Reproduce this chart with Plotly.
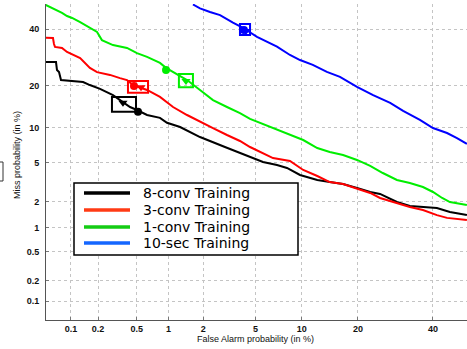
from statistics import NormalDist
import plotly.graph_objects as go

# DET curves: false alarm % (x) vs miss % (y) per training condition
names = ["8-conv Training", "3-conv Training", "1-conv Training", "10-sec Training"]

black_x = [0.0504, 0.0616, 0.0669, 0.0687, 0.0726, 0.0766, 0.105, 0.137, 0.163, 0.21, 0.288, 0.365, 0.43, 0.504, 0.631, 0.836, 0.97, 1.27, 1.88, 2.98, 4.58, 5.64, 7.0, 8.11, 9.76, 12.3, 14.4, 16.9, 19.8, 22.8, 25.2, 29.6, 33.2, 37.0, 41.2, 45.2, 50.5]
black_y = [27.5, 27.5, 27.5, 24.8, 24.1, 21.6, 21.3, 21.0, 20.1, 19.0, 17.3, 15.5, 14.3, 13.6, 12.5, 11.9, 10.9, 10.1, 8.38, 6.89, 5.61, 5.05, 4.73, 4.43, 3.79, 3.38, 3.22, 3.07, 2.8, 2.54, 2.42, 1.98, 1.79, 1.74, 1.7, 1.53, 1.41]

red_x = [0.0504, 0.0616, 0.0633, 0.0651, 0.0787, 0.09, 0.127, 0.163, 0.195, 0.268, 0.34, 0.401, 0.46, 0.631, 0.836, 1.1, 1.46, 1.88, 2.4, 3.09, 3.87, 4.58, 5.64, 6.59, 8.47, 10.2, 12.3, 14.4, 16.9, 19.8, 22.8, 25.2, 29.6, 33.2, 37.0, 41.2, 44.3, 50.5]
red_y = [36.5, 36.4, 34.1, 33.0, 32.6, 31.1, 28.9, 25.5, 24.1, 23.2, 22.2, 21.6, 20.1, 18.7, 16.8, 14.3, 12.5, 11.1, 9.92, 8.71, 7.76, 6.89, 6.1, 5.49, 5.15, 4.24, 3.7, 3.22, 3.07, 2.73, 2.48, 2.19, 1.93, 1.74, 1.61, 1.41, 1.31, 1.24]

green_x = [0.0504, 0.0616, 0.0787, 0.09, 0.103, 0.127, 0.163, 0.195, 0.22, 0.288, 0.401, 0.504, 0.631, 0.836, 0.95, 1.19, 1.46, 1.88, 2.4, 3.09, 3.87, 4.58, 5.64, 7.0, 8.47, 10.2, 12.3, 14.4, 16.9, 19.8, 22.8, 25.9, 29.6, 33.2, 37.0, 40.0, 42.8, 45.2, 50.5]
green_y = [49.9, 48.5, 46.6, 45.3, 44.5, 42.8, 40.4, 38.8, 35.6, 33.7, 32.6, 30.7, 29.3, 27.2, 25.5, 23.5, 21.6, 18.7, 16.0, 14.3, 12.9, 11.7, 10.7, 9.57, 8.71, 7.91, 6.75, 6.23, 5.85, 5.27, 4.63, 3.96, 3.38, 3.15, 2.86, 2.54, 2.19, 1.98, 1.84]

blue_x = [1.64, 1.88, 2.27, 2.73, 3.43, 4.01, 5.13, 7.0, 8.47, 9.76, 11.6, 13.9, 16.3, 19.8, 23.5, 27.8, 31.3, 36.1, 40.0, 44.3, 47.4, 50.5]
blue_y = [50.1, 48.5, 47.0, 45.7, 42.6, 40.7, 36.9, 33.1, 30.0, 28.2, 26.5, 24.2, 22.6, 19.6, 17.3, 15.3, 13.4, 11.5, 9.92, 9.04, 8.22, 7.32]

# operating points per system (same order as names)
mindcf_x = [0.516, 0.471, 0.95, 4.14]
mindcf_y = [13.2, 19.8, 24.8, 39.6]
actdcf_x = [0.365, 0.552, 1.43, 4.28]
actdcf_y = [15.3, 19.5, 21.3, 39.2]
# confidence boxes around the decision points: (fa_lo, fa_hi), (miss_lo, miss_hi)
box_fa = [(0.281, 0.493), (0.41, 0.645), (1.24, 1.64), (3.87, 4.58)]
box_miss = [(13.2, 16.8), (17.9, 21.3), (19.5, 23.5), (37.6, 42.0)]

tick_pct = [0.1, 0.2, 0.5, 1, 2, 5, 10, 20, 40]
tick_text = ["0.1", "0.2", "0.5", "1", "2", "5", "10", "20", "40"]

curve_colors = ["#000000", "#ff0000", "#00ee00", "#0000ff"]
legend_colors = ["#000000", "#ff3a14", "#14cc14", "#1466ff"]

_nd = NormalDist()


def probit(vals):
    return [_nd.inv_cdf(v / 100.0) for v in vals]


W, H = 467, 349
ML, MR, MT, MB = 46, 0, 4, 29
PW, PH = W - ML - MR, H - MT - MB

fig = go.Figure()
series = [(black_x, black_y), (red_x, red_y), (green_x, green_y), (blue_x, blue_y)]
for (xs, ys), name, col in zip(series, names, curve_colors):
    fig.add_trace(go.Scatter(x=probit(xs), y=probit(ys), mode="lines", name=name,
                             line=dict(color=col, width=2), showlegend=False,
                             hoverinfo="skip"))

for i, col in enumerate(curve_colors):
    (fx0, fx1), (my0, my1) = box_fa[i], box_miss[i]
    px0, px1 = probit([fx0, fx1])
    py0, py1 = probit([my0, my1])
    fig.add_shape(type="rect", xref="x", yref="y", x0=px0, x1=px1, y0=py0, y1=py1,
                  line=dict(color=col, width=2), fillcolor="rgba(0,0,0,0)")
    fig.add_trace(go.Scatter(x=probit([actdcf_x[i]]), y=probit([actdcf_y[i]]), mode="markers",
                             marker=dict(symbol="triangle-down", size=8, color=col),
                             showlegend=False, hoverinfo="skip"))
    fig.add_trace(go.Scatter(x=probit([mindcf_x[i]]), y=probit([mindcf_y[i]]), mode="markers",
                             marker=dict(symbol="circle", size=8, color=col),
                             showlegend=False, hoverinfo="skip"))

axis_common = dict(
    showgrid=True, gridcolor="#c4c4c4", griddash="dot", gridwidth=1,
    showline=True, linecolor="#555555", linewidth=1,
    ticks="inside", ticklen=3, tickcolor="#777777",
    zeroline=False, mirror=False,
    tickfont=dict(family="Liberation Sans", size=9, color="#111111"),
)

fig.update_xaxes(range=[-3.2861, 0.0133], tickmode="array", tickvals=probit(tick_pct),
                 ticktext=["<b>%s</b>" % t for t in tick_text], **axis_common)
fig.update_yaxes(range=[-3.2884, 0.0074], tickmode="array", tickvals=probit(tick_pct),
                 ticktext=["<b>%s</b>" % t for t in tick_text], ticklabelstandoff=4,
                 **axis_common)


def px_x(p):
    return (p - ML) / PW


def px_y(p):
    return (H - MB - p) / PH


# axis titles
fig.add_annotation(text="False Alarm probability (in %)", xref="paper", yref="paper",
                   x=px_x(255), y=px_y(339), showarrow=False, xanchor="center", yanchor="middle",
                   font=dict(family="Liberation Sans", size=9, color="#111111"))
fig.add_annotation(text="Miss probability (in %)", xref="paper", yref="paper",
                   x=px_x(17), y=px_y(155), showarrow=False, xanchor="center", yanchor="middle",
                   textangle=-90, font=dict(family="Liberation Sans", size=9, color="#111111"))

# legend box
fig.add_shape(type="rect", xref="paper", yref="paper", x0=px_x(74), x1=px_x(298),
              y0=px_y(255), y1=px_y(183), line=dict(color="#000000", width=1.5),
              fillcolor="white", layer="above")
row_y = [193, 210, 227, 243]
for name, col, ry in zip(names, legend_colors, row_y):
    fig.add_shape(type="line", xref="paper", yref="paper", x0=px_x(84), x1=px_x(130),
                  y0=px_y(ry), y1=px_y(ry), line=dict(color=col, width=3.5), layer="above")
    fig.add_annotation(text=name, xref="paper", yref="paper", x=px_x(141), y=px_y(ry),
                       xanchor="left", yanchor="middle", showarrow=False,
                       font=dict(family="DejaVu Sans", size=14, color="#000000"))

# clipped frame fragment at the far left edge
fig.add_shape(type="rect", xref="paper", yref="paper", x0=px_x(-4), x1=px_x(3),
              y0=px_y(181), y1=px_y(162), line=dict(color="#333333", width=1))

fig.update_layout(width=W, height=H, margin=dict(l=ML, r=MR, t=MT, b=MB),
                  paper_bgcolor="white", plot_bgcolor="white", showlegend=False)

fig.write_html("out.html")
